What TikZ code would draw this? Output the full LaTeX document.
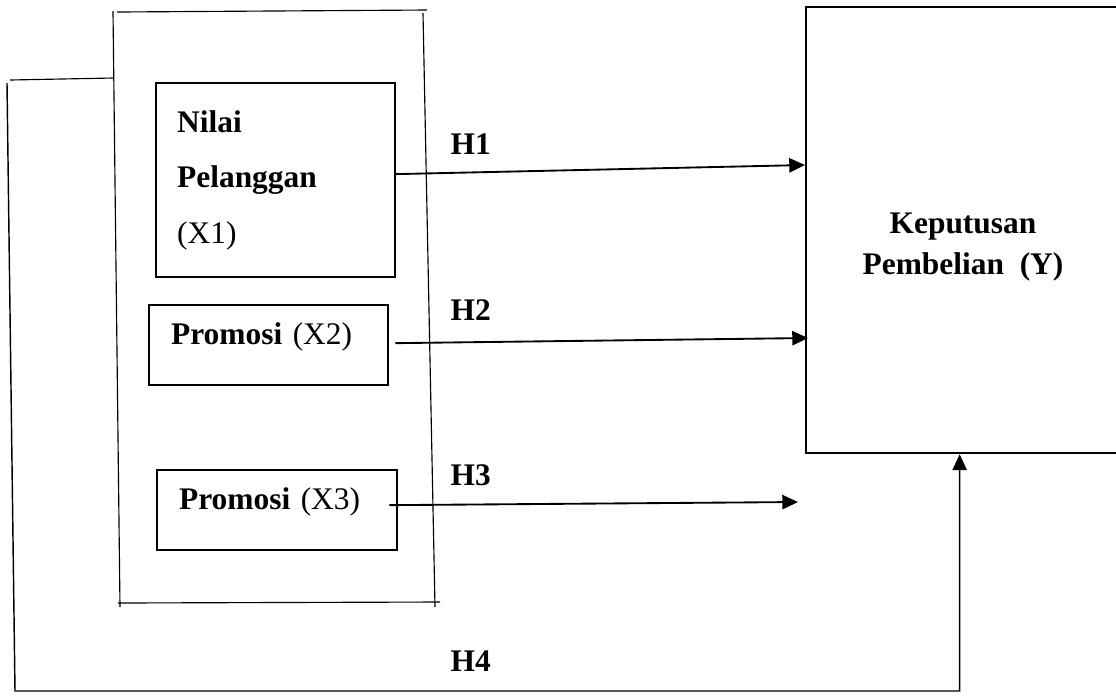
\documentclass[tikz,border=0pt]{standalone}
\usepackage{fontspec}
\setmainfont{Liberation Serif}
\usetikzlibrary{arrows.meta,calc,positioning}

\begin{document}
\begin{tikzpicture}[x=0.35pt,y=-0.35pt,
  varbox/.style={draw,line width=0.8pt,anchor=north west,align=left,
    font=\fontsize{11}{19.5}\selectfont},
  ybox/.style={draw,line width=0.8pt,anchor=north west,
    minimum width=110.25pt,minimum height=156.1pt},
  hyp/.style={anchor=base west,inner xsep=0pt,font=\fontsize{11}{13}\selectfont\bfseries},
  frameline/.style={line width=0.4pt},
  arr/.style={line width=0.65pt,-{Triangle[length=5.5pt,width=5pt]}}]
  \clip (0,0) rectangle (1116,695);
  % frame round the three variables
  \draw[frameline] (117,12) -- (427,10);
  \draw[frameline] (113,11) -- (120,607);
  \draw[frameline] (423,13) -- (435,607);
  \draw[frameline] (118,603) -- (440,602);
  % independent variables
  \node[varbox,text width=69pt,inner xsep=7.35pt,minimum height=67.9pt] (x1) at (155,82)
    {\textbf{Nilai}\\\textbf{Pelanggan}\\(X1)};
  \node[varbox,text width=68.25pt,inner xsep=7.7pt,inner ysep=0pt,
    text height=13.65pt,text depth=14.35pt] (x2) at (148,304) {\textbf{Promosi} (X2)};
  \node[varbox,text width=68.6pt,inner xsep=7.7pt,inner ysep=0pt,
    text height=13.65pt,text depth=14.35pt] (x3) at (156,469) {\textbf{Promosi} (X3)};
  % dependent variable
  \node[ybox] (y) at (805,6) {};
  \node[font=\fontsize{11}{14.35}\selectfont\bfseries,align=center] (ytxt) at (963,247)
    {Keputusan\\Pembelian\ \ (Y)};
  % hypotheses
  \draw[arr] ([shift={(-2,-6)}]x1.east) -- ([shift={(0,159)}]y.north west);
  \draw[arr] ([shift={(6,-2)}]x2.east) -- ([shift={(3,332)}]y.north west);
  \draw[arr] ([shift={(-9,-5)}]x3.east) -- ([shift={(-7,496)}]y.north west);
  \coordinate (frm) at (113,78);
  \draw[frameline] (frm) -- (10,80);
  \draw[line width=0.5pt,-{Triangle[length=5.5pt,width=5pt]}]
    (7,83) -- (15,691) -| ([shift={(-4,0)}]y.south);
  \node[hyp] (h1) at (450,154) {H1};
  \node[hyp] (h2) at (450,320) {H2};
  \node[hyp] (h3) at (450,485) {H3};
  \node[hyp] (h4) at (450,671) {H4};
\end{tikzpicture}
\end{document}
